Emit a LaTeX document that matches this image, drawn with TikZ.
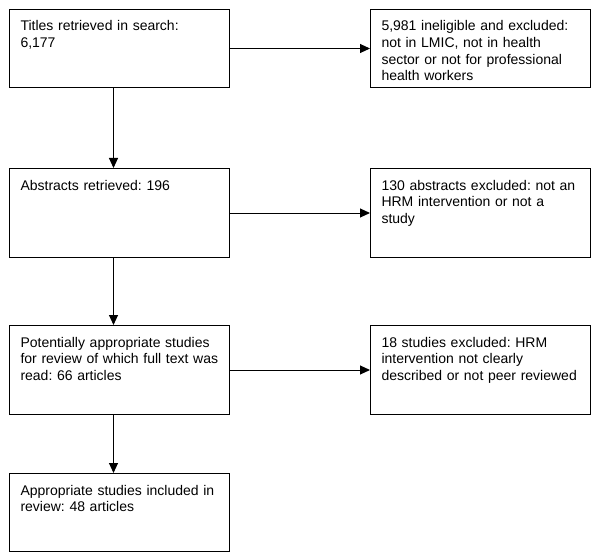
\documentclass[tikz,border=0pt]{standalone}
\usepackage{fontspec}
\setmainfont{Liberation Sans}
\usetikzlibrary{arrows.meta}

\tikzset{
  stagebox/.style={draw, rectangle, line width=1pt, anchor=north west,
    text width=198pt, inner xsep=11pt, inner ysep=0pt, align=left,
    text height=21.5pt, font=\fontsize{14}{16.6}\selectfont\frenchspacing},
  shortbox/.style={stagebox, text depth=56.5pt},
  tallbox/.style={stagebox, text depth=67.5pt},
  flow/.style={line width=1pt, -{Triangle[length=10pt,width=9pt]}}
}

\begin{document}
\begin{tikzpicture}[x=1pt,y=-1pt]
      \useasboundingbox (0,0) rectangle (600,559);
      % left column
      \node[shortbox] (titles) at (9,9) {Titles retrieved in search:\\6,177};
      \node[tallbox] (abstracts) at (9,168) {Abstracts retrieved: 196};
      \node[tallbox] (fulltext) at (9,325) {Potentially appropriate studies\\for review of which full text was\\read: 66 articles};
      \node[shortbox] (included) at (9,473) {Appropriate studies included in\\review: 48 articles};
      % right column
      \node[shortbox] (ineligible) at (370,9) {5,981 ineligible and excluded:\\not in LMIC, not in health\\sector or not for professional\\health workers};
      \node[tallbox] (notstudy) at (370,168) {130 abstracts excluded: not an\\HRM intervention or not a\\study};
      \node[tallbox] (notpeer) at (370,325) {18 studies excluded: HRM\\intervention not clearly\\described or not peer reviewed};
      % arrows
      \draw[flow] ([xshift=-6pt]titles.south) -- ([xshift=-6pt]abstracts.north);
      \draw[flow] ([xshift=-6pt]abstracts.south) -- ([xshift=-6pt]fulltext.north);
      \draw[flow] ([xshift=-6pt]fulltext.south) -- ([xshift=-6pt]included.north);
      \draw[flow] (titles.east) -- (ineligible.west);
      \draw[flow] (abstracts.east) -- (notstudy.west);
      \draw[flow] (fulltext.east) -- (notpeer.west);
\end{tikzpicture}
\end{document}
